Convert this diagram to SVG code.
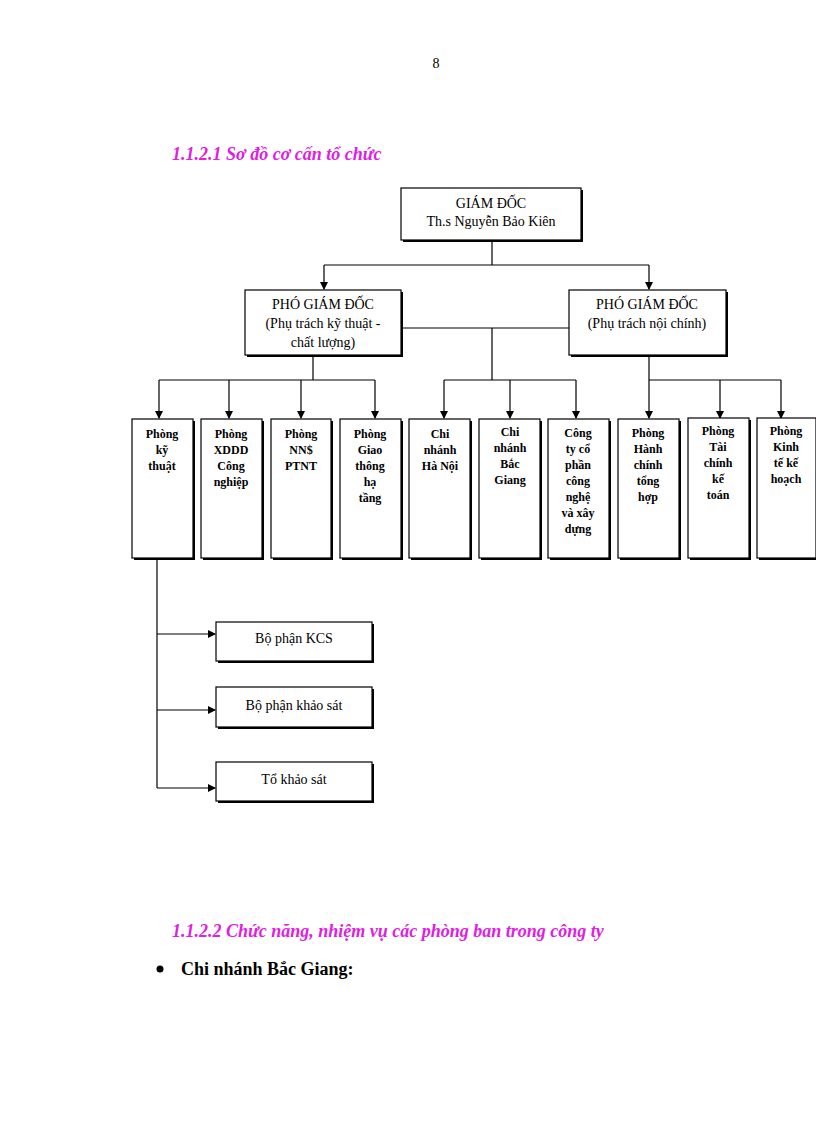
<svg xmlns="http://www.w3.org/2000/svg" width="816" height="1123" viewBox="0 0 816 1123">
<style>
.b{fill:#fff;stroke:#000;stroke-width:1.2}
.s{fill:#000}
.t{font-family:"Liberation Serif",serif;font-size:14px;text-anchor:middle}
.n{font-family:"Liberation Serif",serif;font-size:12px;font-weight:bold;text-anchor:middle}
.h{font-family:"Liberation Serif",serif;font-size:18px;font-weight:bold;font-style:italic;fill:#e020e0}
.c path{fill:none;stroke:#000;stroke-width:1.2}
</style>
<defs><marker id="a" markerWidth="8" markerHeight="8" refX="7" refY="4" orient="auto" markerUnits="userSpaceOnUse"><path d="M0,0L8,4L0,8z" fill="#000"/></marker></defs>
<rect width="816" height="1123" fill="#fff"/>
<text x="436" y="68" style="font-family:'Liberation Serif',serif;font-size:14px" text-anchor="middle">8</text>
<text x="172" y="160" class="h">1.1.2.1 Sơ đồ cơ cấn tổ chức</text>
<g class="c">
<path d="M492,240V265M324,265H649M324,265V289" marker-end="url(#a)"/>
<path d="M649,265V289" marker-end="url(#a)"/>
<path d="M401,328H569M492,328V380M444,380H576"/>
<path d="M313,355V380M159,380H375M649,355V380M649,380H781"/>
<path d="M159,380V418" marker-end="url(#a)"/><path d="M229,380V418" marker-end="url(#a)"/>
<path d="M301,380V418" marker-end="url(#a)"/><path d="M375,380V418" marker-end="url(#a)"/>
<path d="M444,380V418" marker-end="url(#a)"/><path d="M510,380V418" marker-end="url(#a)"/>
<path d="M576,380V418" marker-end="url(#a)"/><path d="M649,380V418" marker-end="url(#a)"/>
<path d="M720,380V418" marker-end="url(#a)"/><path d="M781,380V418" marker-end="url(#a)"/>
<path d="M157,558V788"/>
<path d="M157,634H215" marker-end="url(#a)"/><path d="M157,710H215" marker-end="url(#a)"/><path d="M157,788H215" marker-end="url(#a)"/>
</g>
<g id="gd"><rect x="403" y="190" width="180" height="52" class="s"/><rect x="401" y="188" width="180" height="52" class="b"/>
<text class="t" x="491" y="208">GIÁM ĐỐC</text><text class="t" x="491" y="226">Th.s Nguyễn Bảo Kiên</text></g>
<g id="pgd1"><rect x="247" y="292" width="156" height="65" class="s"/><rect x="245" y="290" width="156" height="65" class="b"/>
<text class="t" x="323" y="309">PHÓ GIÁM ĐỐC</text><text class="t" x="323" y="328">(Phụ trách kỹ thuật -</text><text class="t" x="323" y="347">chất lượng)</text></g>
<g id="pgd2"><rect x="571" y="292" width="157" height="65" class="s"/><rect x="569" y="290" width="157" height="65" class="b"/>
<text class="t" x="647" y="309">PHÓ GIÁM ĐỐC</text><text class="t" x="647" y="328">(Phụ trách nội chính)</text></g>
<g id="p1"><rect x="134" y="421" width="61" height="139" class="s"/><rect x="132" y="419" width="61" height="139" class="b"/><text class="n" x="162" y="438">Phòng<tspan x="162" dy="16">kỹ</tspan><tspan x="162" dy="16">thuật</tspan></text></g>
<g id="p2"><rect x="203" y="421" width="61" height="139" class="s"/><rect x="201" y="419" width="61" height="139" class="b"/><text class="n" x="231" y="438">Phòng<tspan x="231" dy="16">XDDD</tspan><tspan x="231" dy="16">Công</tspan><tspan x="231" dy="16">nghiệp</tspan></text></g>
<g id="p3"><rect x="273" y="421" width="60" height="139" class="s"/><rect x="271" y="419" width="60" height="139" class="b"/><text class="n" x="301" y="438">Phòng<tspan x="301" dy="16">NN$</tspan><tspan x="301" dy="16">PTNT</tspan></text></g>
<g id="p4"><rect x="342" y="421" width="61" height="139" class="s"/><rect x="340" y="419" width="61" height="139" class="b"/><text class="n" x="370" y="438">Phòng<tspan x="370" dy="16">Giao</tspan><tspan x="370" dy="16">thông</tspan><tspan x="370" dy="16">hạ</tspan><tspan x="370" dy="16">tầng</tspan></text></g>
<g id="p5"><rect x="411" y="421" width="61" height="139" class="s"/><rect x="409" y="419" width="61" height="139" class="b"/><text class="n" x="440" y="438">Chi<tspan x="440" dy="16">nhánh</tspan><tspan x="440" dy="16">Hà Nội</tspan></text></g>
<g id="p6"><rect x="481" y="421" width="61" height="139" class="s"/><rect x="479" y="419" width="61" height="139" class="b"/><text class="n" x="510" y="436">Chi<tspan x="510" dy="16">nhánh</tspan><tspan x="510" dy="16">Bắc</tspan><tspan x="510" dy="16">Giang</tspan></text></g>
<g id="p7"><rect x="550" y="421" width="61" height="139" class="s"/><rect x="548" y="419" width="61" height="139" class="b"/><text class="n" x="578" y="437">Công<tspan x="578" dy="16">ty cổ</tspan><tspan x="578" dy="16">phần</tspan><tspan x="578" dy="16">công</tspan><tspan x="578" dy="16">nghệ</tspan><tspan x="578" dy="16">và xây</tspan><tspan x="578" dy="16">dựng</tspan></text></g>
<g id="p8"><rect x="620" y="421" width="61" height="139" class="s"/><rect x="618" y="419" width="61" height="139" class="b"/><text class="n" x="648" y="437">Phòng<tspan x="648" dy="16">Hành</tspan><tspan x="648" dy="16">chính</tspan><tspan x="648" dy="16">tổng</tspan><tspan x="648" dy="16">hợp</tspan></text></g>
<g id="p9"><rect x="690" y="420" width="61" height="140" class="s"/><rect x="688" y="418" width="61" height="140" class="b"/><text class="n" x="718" y="435">Phòng<tspan x="718" dy="16">Tài</tspan><tspan x="718" dy="16">chính</tspan><tspan x="718" dy="16">kế</tspan><tspan x="718" dy="16">toán</tspan></text></g>
<g id="p10"><rect x="759" y="420" width="59" height="140" class="s"/><rect x="757" y="418" width="59" height="140" class="b"/><text class="n" x="786" y="435">Phòng<tspan x="786" dy="16">Kinh</tspan><tspan x="786" dy="16">tế kế</tspan><tspan x="786" dy="16">hoạch</tspan></text></g>
<g id="kcs"><rect x="218" y="624" width="156" height="39" class="s"/><rect x="216" y="622" width="156" height="39" class="b"/><text class="t" x="294" y="643">Bộ phận  KCS</text></g>
<g id="ks"><rect x="218" y="689" width="156" height="40" class="s"/><rect x="216" y="687" width="156" height="40" class="b"/><text class="t" x="294" y="710">Bộ phận khảo sát</text></g>
<g id="tks"><rect x="218" y="764" width="156" height="39" class="s"/><rect x="216" y="762" width="156" height="39" class="b"/><text class="t" x="294" y="784">Tổ khảo sát</text></g>
<text x="172" y="937" class="h">1.1.2.2  Chức năng, nhiệm vụ các phòng ban trong công ty</text>
<circle cx="160" cy="969" r="3.5" fill="#000"/>
<text x="181" y="975" style="font-family:'Liberation Serif',serif;font-size:18px;font-weight:bold">Chi nhánh Bắc Giang:</text>
</svg>
